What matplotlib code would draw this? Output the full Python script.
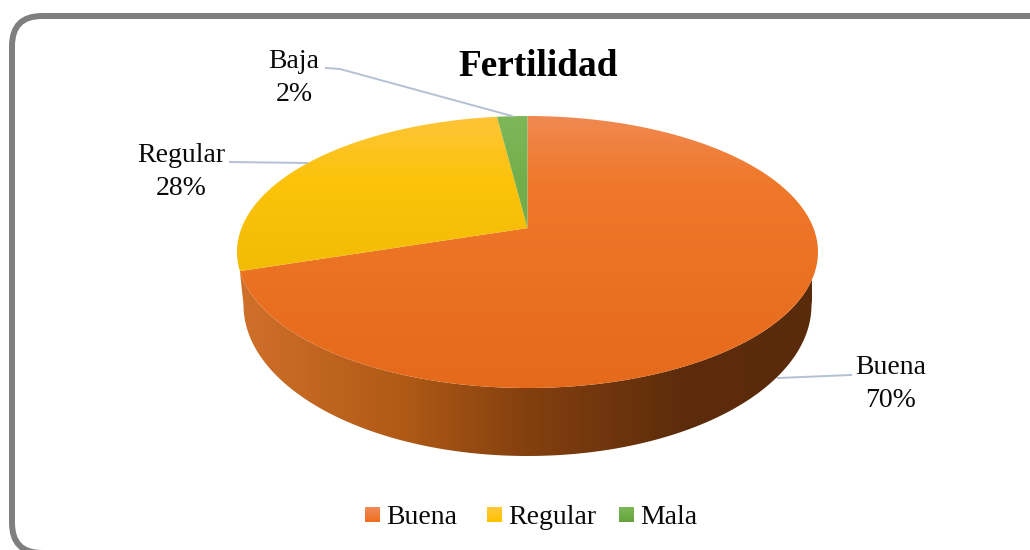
import numpy as np
import matplotlib
matplotlib.use("Agg")
import matplotlib.pyplot as plt
from matplotlib.colors import LinearSegmentedColormap
from matplotlib.patches import FancyBboxPatch, Polygon

categories = ["Buena", "Regular", "Baja"]
values = [70, 28, 2]
legend_names = ["Buena", "Regular", "Mala"]
titulo = "Fertilidad"

plt.rcParams["font.family"] = ["Liberation Serif", "DejaVu Serif"]

# geometria da pizza em pixels
cx, cy, rx, ry = 527.5, 252, 290.5, 136
persp = 0.176  # deslocamento do centro por causa da perspectiva
bx, by, brx, bry = 527.5, 305, 284, 151

colors_top = [["#ef8b55", "#f0782a", "#e5691a"], ["#fdc53c", "#fcc30a", "#e4b000"], ["#7fb85a", "#74ae4b", "#6fa845"]]
colors_leg = [("#f08a58", "#ee6f1f"), ("#ffca3a", "#ffc000"), ("#7db857", "#65a33c")]
side_cmap = LinearSegmentedColormap.from_list(
    "lado", [(0, "#d0702a"), (0.28, "#b05a16"), (0.5, "#84400f"), (0.78, "#5c2c0b"), (1, "#5a2b0b")])


def arc(a0, a1, n=200):
    # angulos em graus, sentido horario a partir do topo
    t = np.radians(np.linspace(a0, a1, n))
    X, Y = np.sin(t), np.cos(t)
    d = 1 + persp * Y
    xn = X * np.sqrt(1 - persp**2) / d
    yn = (Y + persp) / d
    return np.column_stack([cx + rx * xn, cy - ry * yn])


def gradient(ax, patch, cmap, extent, horizontal=False):
    g = np.linspace(0, 1, 256)
    g = g.reshape(1, -1) if horizontal else g.reshape(-1, 1)
    # origin upper: primeira linha no topo
    im = ax.imshow(g, cmap=cmap, extent=extent, aspect="auto", origin="upper",
                   vmin=0, vmax=1, zorder=patch.get_zorder(), interpolation="bilinear")
    ax.add_patch(patch)
    im.set_clip_path(patch)


fig = plt.figure(figsize=(10.3, 5.5), dpi=100)
ax = fig.add_axes([0, 0, 1, 1])
ax.axis("off")

# moldura
frame = FancyBboxPatch((12, 16), 1060, 537, boxstyle="round,pad=0,rounding_size=30",
                       fc="white", ec="#7f7f7f", lw=4.3, zorder=1)
ax.add_patch(frame)

# lateral
edge_end = 360 * values[0] / sum(values)
p0 = arc(edge_end, edge_end, 1)[0]
t = np.linspace(np.pi, 0, 200)
bottom = np.column_stack([bx + brx * np.cos(t), by + bry * np.sin(t)])
side_pts = np.vstack([[p0], bottom, [[cx + rx, cy + 2]], arc(90, edge_end, 150)])
side = Polygon(side_pts, closed=True, fc="none", ec="none", zorder=2)
gradient(ax, side, side_cmap, (240, 812, 460, 250), horizontal=True)

# faces de cima
start = 0
for name, v, stops in zip(categories, values, colors_top):
    end = start + 360 * v / sum(values)
    pts = np.vstack([[[cx, cy - ry * persp]], arc(start, end)])
    face = Polygon(pts, closed=True, fc="none", ec="none", zorder=3)
    cm = LinearSegmentedColormap.from_list(name, [(0, stops[0]), (0.25, stops[1]), (1, stops[2])])
    gradient(ax, face, cm, (230, 825, 395, 110))
    start = end

# linhas de chamada
line_c = "#b4c1d2"
ax.plot([326, 340, 512], [68, 69, 116], color=line_c, lw=1.4, zorder=4)
ax.plot([230, 307], [162, 163], color=line_c, lw=1.4, zorder=4)
ax.plot([778, 851], [378, 375], color=line_c, lw=1.4, zorder=4)

# rotulos
label_pos = [(891, 384), (181, 172), (294, 78)]
for name, v, (lx, ly) in zip(categories, values, label_pos):
    ax.text(lx, ly, f"{name}\n{v}%", fontsize=20, ha="center", va="center",
            linespacing=1.4, color="#0a0a0a", zorder=5)

ax.text(538, 66, titulo, fontsize=26.8, fontweight="bold", ha="center", va="center",
        color="black", zorder=5)

# legenda
square_x = [365, 487, 619]
text_x = [386, 508, 640]
for name, (c0, c1), sx, tx in zip(legend_names, colors_leg, square_x, text_x):
    cm = LinearSegmentedColormap.from_list("l" + name, [c0, c1])
    ax.imshow(np.linspace(0, 1, 32).reshape(-1, 1), cmap=cm, extent=(sx, sx + 15, 522, 507),
              aspect="auto", origin="upper", zorder=5)
    ax.text(tx, 524, name, fontsize=20, ha="left", va="baseline", color="#0a0a0a", zorder=5)

ax.set_xlim(0, 1030)
ax.set_ylim(550, 0)
fig.savefig("out.png", dpi=100, facecolor="white")
